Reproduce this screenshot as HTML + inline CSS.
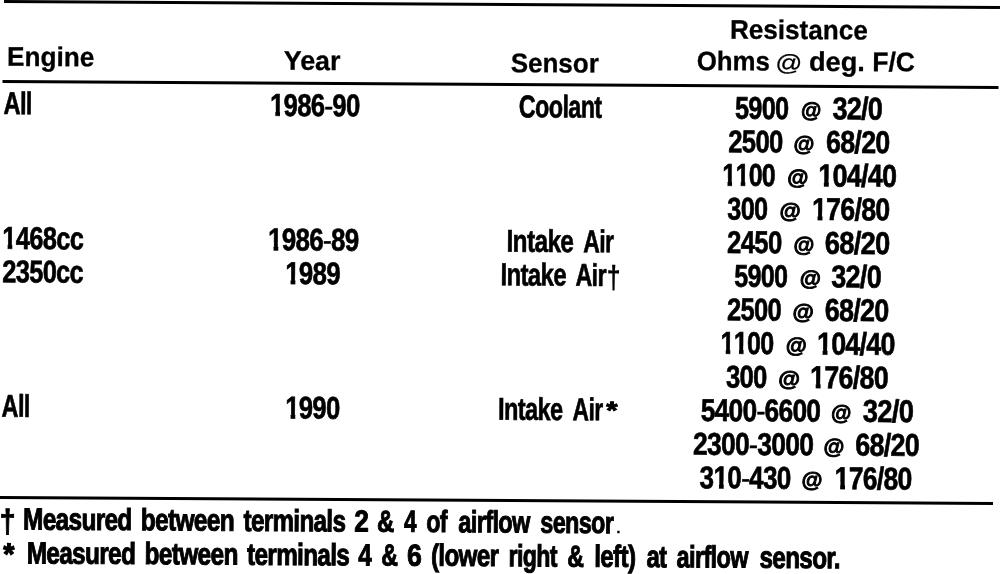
<!DOCTYPE html>
<html lang="en">
<head>
<meta charset="utf-8">
<title>Sensor Resistance</title>
<style>
html,body{margin:0;padding:0;background:#fff}
html{overflow:hidden}
body{width:1008px;height:574px;overflow:hidden;position:relative}
#pg{position:absolute;left:0;top:0;width:1008px;height:574px;overflow:hidden}
#sk{position:absolute;left:0;top:0;width:1008px;height:574px;transform-origin:0 0;transform:rotate(0.3438deg)}
#sk span{position:absolute;left:0;top:0;white-space:pre;line-height:1;font-family:"Liberation Sans", sans-serif;color:#000;transform-origin:0 0}
#sk i{position:absolute;display:block;background:#000}
#sk u{display:inline-block;text-decoration:none;clip-path:polygon(-1em -1em,2em -1em,2em .58em,calc(.3706em + .7px) .58em,calc(.3706em + .7px) 2em,calc(.2334em - .7px) 2em,calc(.2334em - .7px) .58em,-1em .58em)}
#sk em{display:inline-block;font-style:normal;transform:scaleY(.6);transform-origin:50% .567em}
#sk span.h{font-size:27px;font-weight:700;letter-spacing:0px;-webkit-text-stroke:0.3px #000}
#sk span.b{font-size:31.5px;font-weight:700;letter-spacing:-0.8px;-webkit-text-stroke:0.65px #000}
#sk span.f{font-size:30.6px;font-weight:700;letter-spacing:-0.8px;-webkit-text-stroke:1px #000}
#sk span.d{font-size:31.5px;font-weight:700;letter-spacing:0px;-webkit-text-stroke:0.2px #000}
#sk span.D{font-size:31.5px;font-weight:700;letter-spacing:0px;-webkit-text-stroke:0.9px #000}
#sk span.e{font-size:31.5px;font-weight:700;letter-spacing:0px;-webkit-text-stroke:1.3px #000}
#sk span.a{font-size:20px;font-weight:700;letter-spacing:0px;-webkit-text-stroke:0.9px #000}
#sk span.A{font-size:24px;font-weight:400;letter-spacing:0px;-webkit-text-stroke:0.25px #000}
#sk span.p{font-size:20px;font-weight:400;letter-spacing:0px;-webkit-text-stroke:0.3px #000}
</style>
</head>
<body>
<div id="pg">
<div id="sk">
<i style="left:4px;top:-0.3px;width:996px;height:3px"></i>
<i style="left:3px;top:79.9px;width:996px;height:3px"></i>
<i style="left:0px;top:496.3px;width:996px;height:3px"></i>
<span class="h" style="transform:translate(730.16px,12.29px) scaleX(0.9667)">Resistance</span>
<span class="h" style="transform:translate(7.43px,43.77px) scaleX(0.9689)">Engine</span>
<span class="h" style="transform:translate(284.22px,46.01px) scaleX(0.9904)">Year</span>
<span class="h" style="transform:translate(511.10px,47.08px) scaleX(0.9629)">Sensor</span>
<span class="h" style="transform:translate(697.06px,43.97px) scaleX(0.9558)">Ohms</span>
<span class="A" style="transform:translate(775.60px,46.86px) scale(1.1117,0.9508)">@</span>
<span class="h" style="transform:translate(809.36px,43.94px) scaleX(1.0056)">deg.</span>
<span class="h" style="transform:translate(872.76px,43.92px) scaleX(0.9800)">F/C</span>
<span class="b" style="transform:translate(4.15px,88.03px) scaleX(0.7494)">All</span>
<span class="b" style="transform:translate(270.63px,88.22px) scaleX(0.8137)"><u>1</u>986<em>-</em>90</span>
<span class="b" style="transform:translate(519.51px,88.13px) scaleX(0.7405)">Coolant</span>
<span class="b" style="transform:translate(735.70px,88.33px) scaleX(0.7995)">5900</span>
<span class="a" style="transform:translate(801.65px,94.52px) scale(1.0390,1.0436)">@</span>
<span class="b" style="transform:translate(833.08px,88.17px) scaleX(0.8572)">32/0</span>
<span class="b" style="transform:translate(729.19px,121.84px) scaleX(0.8106)">2500</span>
<span class="a" style="transform:translate(794.35px,128.04px) scale(1.0685,1.0541)">@</span>
<span class="b" style="transform:translate(826.85px,121.82px) scaleX(0.8501)">68/20</span>
<span class="b" style="transform:translate(723.38px,155.32px) scaleX(0.7886)"><u>1</u><u>1</u>00</span>
<span class="a" style="transform:translate(788.31px,161.92px) scale(1.0839,1.0425)">@</span>
<span class="b" style="transform:translate(819.29px,155.38px) scaleX(0.8538)"><u>1</u>04/40</span>
<span class="b" style="transform:translate(728.59px,189.04px) scaleX(0.7984)">300</span>
<span class="a" style="transform:translate(780.91px,195.26px) scale(1.0839,1.0524)">@</span>
<span class="b" style="transform:translate(813.25px,189.01px) scaleX(0.8467)"><u>1</u>76/80</span>
<span class="b" style="transform:translate(3.78px,222.84px) scaleX(0.8058)"><u>1</u>468cc</span>
<span class="b" style="transform:translate(269.59px,222.63px) scaleX(0.8207)"><u>1</u>986<em>-</em>89</span>
<span class="b" style="transform:translate(507.95px,222.63px) scaleX(0.7756)">Intake</span>
<span class="b" style="transform:translate(584.82px,222.69px) scaleX(0.7279)">Air</span>
<span class="b" style="transform:translate(728.58px,222.56px) scaleX(0.8139)">2450</span>
<span class="a" style="transform:translate(794.92px,228.90px) scale(1.0662,1.0459)">@</span>
<span class="b" style="transform:translate(826.19px,222.71px) scaleX(0.8664)">68/20</span>
<span class="b" style="transform:translate(4.03px,256.26px) scaleX(0.8033)">2350cc</span>
<span class="b" style="transform:translate(286.86px,256.32px) scaleX(0.8195)"><u>1</u>989</span>
<span class="b" style="transform:translate(502.12px,256.28px) scaleX(0.7607)">Intake</span>
<span class="b" style="transform:translate(577.12px,256.37px) scaleX(0.7362)">Air</span>
<span class="d" style="transform:translate(608.13px,257.95px) scale(0.8023,1.0128)">†</span>
<span class="b" style="transform:translate(735.88px,256.30px) scaleX(0.7949)">5900</span>
<span class="a" style="transform:translate(801.40px,262.47px) scale(1.0847,1.0534)">@</span>
<span class="b" style="transform:translate(832.96px,256.26px) scaleX(0.8548)">32/0</span>
<span class="b" style="transform:translate(728.92px,289.91px) scaleX(0.8078)">2500</span>
<span class="a" style="transform:translate(794.52px,296.18px) scale(1.0910,1.0539)">@</span>
<span class="b" style="transform:translate(826.68px,289.90px) scaleX(0.8529)">68/20</span>
<span class="b" style="transform:translate(722.61px,323.44px) scaleX(0.7905)"><u>1</u><u>1</u>00</span>
<span class="a" style="transform:translate(787.86px,329.64px) scale(1.0752,1.0517)">@</span>
<span class="b" style="transform:translate(819.08px,323.55px) scaleX(0.8478)"><u>1</u>04/40</span>
<span class="b" style="transform:translate(728.23px,357.12px) scaleX(0.8127)">300</span>
<span class="a" style="transform:translate(780.60px,363.24px) scale(1.1138,1.0522)">@</span>
<span class="b" style="transform:translate(812.38px,357.20px) scaleX(0.8498)"><u>1</u>76/80</span>
<span class="b" style="transform:translate(4.08px,390.76px) scaleX(0.7425)">All</span>
<span class="b" style="transform:translate(287.70px,390.71px) scaleX(0.8118)"><u>1</u>990</span>
<span class="b" style="transform:translate(500.54px,390.67px) scaleX(0.7462)">Intake</span>
<span class="b" style="transform:translate(575.07px,390.78px) scaleX(0.7226)">Air</span>
<span class="e" style="transform:translate(608.78px,394.63px) scale(0.9110,0.7746)">*</span>
<span class="b" style="transform:translate(703.14px,390.76px) scaleX(0.8341)">5400<em>-</em>6600</span>
<span class="a" style="transform:translate(833.55px,397.00px) scale(1.0414,1.0517)">@</span>
<span class="b" style="transform:translate(865.32px,390.67px) scaleX(0.8656)">32/0</span>
<span class="b" style="transform:translate(695.81px,424.39px) scaleX(0.8368)">2300<em>-</em>3000</span>
<span class="a" style="transform:translate(826.19px,430.65px) scale(1.0673,1.0538)">@</span>
<span class="b" style="transform:translate(858.08px,424.42px) scaleX(0.8515)">68/20</span>
<span class="b" style="transform:translate(702.53px,457.97px) scaleX(0.8265)">3<u>1</u>0<em>-</em>430</span>
<span class="a" style="transform:translate(804.51px,464.17px) scale(1.0727,1.0512)">@</span>
<span class="b" style="transform:translate(837.51px,458.07px) scaleX(0.8398)"><u>1</u>76/80</span>
<span class="D" style="transform:translate(2.69px,505.28px) scale(0.9130,1.0373)">†</span>
<span class="f" style="transform:translate(26.24px,503.40px) scaleX(0.7956)">Measured</span>
<span class="f" style="transform:translate(143.96px,503.34px) scaleX(0.7979)">between</span>
<span class="f" style="transform:translate(246.64px,503.47px) scaleX(0.7902)">terminals</span>
<span class="f" style="transform:translate(357.55px,503.38px) scaleX(0.8548)">2</span>
<span class="f" style="transform:translate(380.14px,503.48px) scaleX(0.7835)">&amp;</span>
<span class="f" style="transform:translate(407.25px,503.37px) scaleX(0.7320)">4</span>
<span class="f" style="transform:translate(429.42px,503.35px) scaleX(0.7589)">of</span>
<span class="f" style="transform:translate(461.52px,503.44px) scaleX(0.7676)">airflow</span>
<span class="f" style="transform:translate(543.47px,503.51px) scaleX(0.7636)">sensor</span>
<span class="p" style="transform:translate(618.73px,513.08px) scale(1.0379,0.9509)">.</span>
<span class="e" style="transform:translate(6.73px,539.30px) scale(0.8997,0.9600)">*</span>
<span class="f" style="transform:translate(30.03px,537.21px) scaleX(0.7962)">Measured</span>
<span class="f" style="transform:translate(147.96px,537.21px) scaleX(0.7970)">between</span>
<span class="f" style="transform:translate(250.42px,537.30px) scaleX(0.7928)">terminals</span>
<span class="f" style="transform:translate(361.71px,537.24px) scaleX(0.7924)">4</span>
<span class="f" style="transform:translate(384.65px,537.28px) scaleX(0.7576)">&amp;</span>
<span class="f" style="transform:translate(410.39px,537.25px) scaleX(0.8679)">6</span>
<span class="f" style="transform:translate(434.28px,537.13px) scaleX(0.7899)">(lower</span>
<span class="f" style="transform:translate(511.91px,537.15px) scaleX(0.7551)">right</span>
<span class="f" style="transform:translate(570.68px,537.30px) scaleX(0.7571)">&amp;</span>
<span class="f" style="transform:translate(597.67px,537.11px) scaleX(0.7871)">left)</span>
<span class="f" style="transform:translate(649.88px,537.19px) scaleX(0.7782)">at</span>
<span class="f" style="transform:translate(679.98px,537.22px) scaleX(0.7650)">airflow</span>
<span class="f" style="transform:translate(762.89px,537.28px) scaleX(0.7914)">sensor.</span>
</div>
</div>
</body>
</html>
